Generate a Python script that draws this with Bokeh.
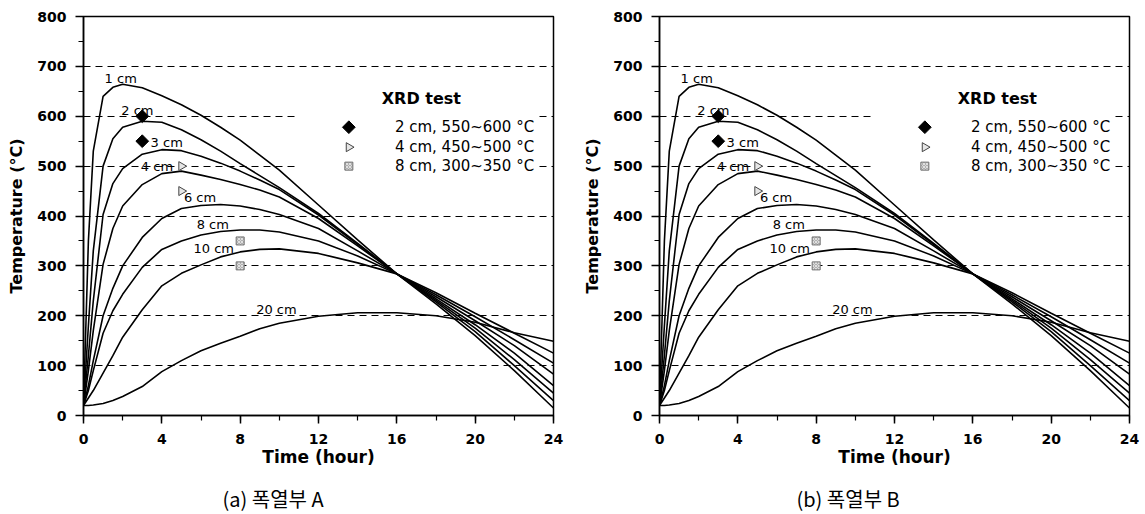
import numpy as np
from bokeh.plotting import figure
from bokeh.layouts import row
from bokeh.models import Range1d, FixedTicker, Title
from bokeh.embed import file_html
from bokeh.resources import INLINE
from bokeh.core.properties import value

# ---------------- data ----------------
hours = [0, 0.25, 0.5, 1, 1.5, 2, 3, 4, 5, 6, 7, 8, 9, 10, 12, 14, 16, 18, 20, 22, 24]

depth_names = ["1 cm", "2 cm", "3 cm", "4 cm", "6 cm", "8 cm", "10 cm", "20 cm"]

t_1cm  = [20, 350, 530, 640, 658, 664, 657, 641, 623, 602, 578, 552, 522, 492, 422, 352, 284, 224, 160, 90, 15]
t_2cm  = [20, 180, 330, 500, 555, 578, 590, 588, 573, 553, 530, 505, 481, 457, 405, 345, 284, 228, 168, 100, 30]
t_3cm  = [20, 120, 230, 403, 465, 495, 524, 533, 531, 520, 506, 490, 472, 453, 402, 343, 284, 231, 175, 112, 45]
t_4cm  = [20, 90, 170, 303, 375, 420, 463, 485, 490, 482, 473, 463, 452, 438, 395, 340, 284, 234, 182, 125, 60]
t_6cm  = [20, 60, 110, 200, 255, 300, 357, 395, 415, 421, 423, 420, 413, 403, 375, 330, 284, 238, 190, 140, 83]
t_8cm  = [20, 50, 90, 165, 210, 243, 297, 333, 350, 362, 369, 372, 372, 368, 350, 320, 284, 242, 198, 152, 105]
t_10cm = [20, 35, 50, 85, 120, 157, 212, 260, 285, 302, 318, 328, 333, 334, 325, 306, 284, 246, 205, 165, 125]
t_20cm = [20, 20, 21, 24, 30, 38, 58, 88, 110, 130, 145, 159, 174, 185, 199, 206, 206, 200, 187, 166, 149]

# curve label positions (hour, temperature)
label_x = [1.9, 2.75, 4.25, 3.75, 5.95, 6.6, 6.65, 9.85]
label_y = [676, 612, 548, 500, 437, 382, 334, 212]

# XRD test points
xrd_diamond_x = [3, 3]
xrd_diamond_y = [600, 550]
xrd_tri_x = [5, 5]
xrd_tri_y = [500, 450]
xrd_sq_x = [8, 8]
xrd_sq_y = [350, 300]

legend_title = "XRD test"
legend_texts = ["2 cm, 550~600 \u00b0C", "4 cm, 450~500 \u00b0C", "8 cm, 300~350 \u00b0C"]
legend_rows_y = [578, 538, 500]

x_ticks = [0, 4, 8, 12, 16, 20, 24]
x_minor = list(range(0, 25, 2))
y_ticks = list(range(0, 801, 100))
y_minor = list(range(0, 801, 50))
grid_levels = [100, 200, 300, 400, 500, 600, 700]

captions = ["(a) 폭열부 A", "(b) 폭열부 B"]

series = [t_1cm, t_2cm, t_3cm, t_4cm, t_6cm, t_8cm, t_10cm, t_20cm]

FONT = "DejaVu Sans"


def add_markers(p, kind, xs, ys):
    if kind == "diamond":
        p.scatter(xs, ys, marker="square", size=9, angle=np.pi / 4,
                  fill_color="black", line_color="black")
    elif kind == "tri":
        p.scatter(xs, ys, marker="triangle", size=9, angle=-np.pi / 2,
                  fill_color="#e6e6e6", line_color="#444444", line_width=1)
    else:
        p.scatter(xs, ys, marker="square", size=8,
                  fill_color="#b0b0b0", line_color="#707070", line_width=1,
                  hatch_pattern="x", hatch_color="#e0e0e0", hatch_scale=3)


def make_panel(caption, left, right, cap_offset):
    p = figure(frame_width=470, frame_height=399, output_backend="svg", toolbar_location=None,
               x_range=Range1d(0, 24), y_range=Range1d(0, 800),
               min_border_left=left, min_border_right=right,
               min_border_top=16, min_border_bottom=94,
               background_fill_color="white", border_fill_color="white")
    p.outline_line_color = "black"
    p.outline_line_width = 1.5

    # axes
    p.xaxis.ticker = FixedTicker(ticks=x_ticks, minor_ticks=x_minor)
    p.yaxis.ticker = FixedTicker(ticks=y_ticks, minor_ticks=y_minor)
    for ax in (p.xaxis[0], p.yaxis[0]):
        ax.axis_line_width = 1.5
        ax.axis_line_color = "black"
        ax.major_tick_line_width = 1.5
        ax.minor_tick_line_width = 1.2
        ax.major_tick_out = 8
        ax.major_tick_in = 0
        ax.minor_tick_out = 5
        ax.minor_tick_in = 0
        ax.major_label_text_font = FONT
        ax.major_label_text_font_size = "14px"
        ax.major_label_text_font_style = "bold"
        ax.major_label_text_color = "black"
        ax.axis_label_text_font = FONT
        ax.axis_label_text_font_style = "bold"
        ax.axis_label_text_color = "black"
    p.xaxis.major_label_standoff = 10
    p.yaxis.major_label_standoff = 9
    p.xaxis.axis_label = "Time (hour)"
    p.xaxis.axis_label_text_font_size = "17px"
    p.xaxis.axis_label_standoff = 0
    p.yaxis.axis_label = "Temperature (\u00b0C)"
    p.yaxis.axis_label_text_font_size = "16px"
    p.yaxis.axis_label_standoff = 8

    # grid
    p.xgrid.grid_line_color = None
    p.ygrid.ticker = FixedTicker(ticks=grid_levels)
    p.ygrid.grid_line_color = "black"
    p.ygrid.grid_line_width = 1
    p.ygrid.grid_line_dash = "7 5"

    # white backing for the legend block
    p.quad(left=[10.9], right=[23.2], bottom=[480], top=[660],
           fill_color="white", line_color=None)

    # curves
    for ys in series:
        p.line(hours, ys, line_color="black", line_width=1.6)

    # curve labels
    p.text(x=label_x, y=label_y, text=depth_names, text_align="center",
           text_baseline="middle", text_font=value(FONT), text_font_size="13px",
           text_color="black")

    # XRD points
    add_markers(p, "diamond", xrd_diamond_x, xrd_diamond_y)
    add_markers(p, "tri", xrd_tri_x, xrd_tri_y)
    add_markers(p, "sq", xrd_sq_x, xrd_sq_y)

    # manual legend
    lx_mark = 13.55
    lx_text = 15.9
    p.text(x=[17.25], y=[636], text=[legend_title], text_align="center",
           text_baseline="middle", text_font=value(FONT), text_font_size="16px",
           text_font_style="bold", text_color="black")
    add_markers(p, "diamond", [lx_mark], [legend_rows_y[0]])
    add_markers(p, "tri", [lx_mark], [legend_rows_y[1]])
    add_markers(p, "sq", [lx_mark], [legend_rows_y[2]])
    p.text(x=[lx_text] * 3, y=legend_rows_y, text=legend_texts, text_align="left",
           text_baseline="middle", text_font=value(FONT), text_font_size="15px",
           text_color="black")

    # caption below
    t = Title(text=caption, align="left", offset=cap_offset,
              text_font="Noto Sans CJK KR", text_font_size="20px",
              text_font_style="normal", text_color="black", standoff=25)
    p.add_layout(t, "below")
    return p


pa = make_panel(captions[0], 83, 27, 139)
pb = make_panel(captions[1], 77, 15, 137)

layout = row(pa, pb)
open("out.html", "w").write(file_html(layout, INLINE))
